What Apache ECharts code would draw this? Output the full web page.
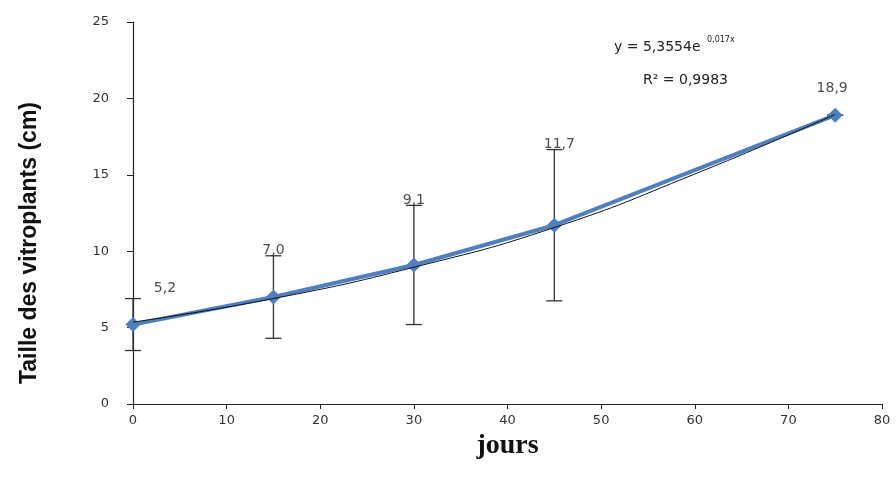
<!DOCTYPE html>
<html><head><meta charset="utf-8">
<script src="https://cdn.jsdelivr.net/npm/echarts@6/dist/echarts.min.js"></script>
<style>html,body{margin:0;padding:0;background:#fff}#c{width:896px;height:490px}</style>
</head><body><div id="c"></div>
<script>
var days = [0, 15, 30, 45, 75];
var heights = [5.2, 7.0, 9.1, 11.7, 18.9];
var errors = [1.7, 2.7, 3.9, 4.95, 0];
var labels = ['5,2', '7,0', '9,1', '11,7', '18,9'];
var trendX = [0, 15, 30, 45, 60, 75];
var trendY = [5.36, 6.9, 8.95, 11.55, 15.05, 18.95];
var xTicks = [0, 10, 20, 30, 40, 50, 60, 70, 80];
var yTicks = [0, 5, 10, 15, 20, 25];

var chart = echarts.init(document.getElementById('c'));
var lineData = days.map(function (d, i) { return [d, heights[i]]; });
var errData = days.map(function (d, i) { return [d, heights[i] - errors[i], heights[i] + errors[i]]; });
var labelOffsets = { 0: [32, -5], 3: [5, 0], 4: [-3, -22] };
var labelData = days.map(function (d, i) {
  var item = { value: [d, heights[i] + errors[i]], name: labels[i] };
  if (labelOffsets[i]) item.label = { offset: labelOffsets[i] };
  return item;
});
var trendData = trendX.map(function (d, i) { return [d, trendY[i]]; });

chart.setOption({
  animation: false,
  grid: { left: 133, right: 14, top: 22, bottom: 86 },
  xAxis: {
    type: 'value', min: 0, max: 80, interval: 10,
    axisLine: { lineStyle: { color: '#222', width: 1.2 } },
    axisTick: { show: true, length: 5, lineStyle: { color: '#222' } },
    axisLabel: { color: '#333', fontFamily: 'DejaVu Sans', fontSize: 13, margin: 10 },
    splitLine: { show: false },
    name: 'jours', nameLocation: 'middle', nameGap: 28,
    nameTextStyle: { fontFamily: 'Liberation Serif', fontWeight: 'bold', fontSize: 28, color: '#111' }
  },
  yAxis: {
    type: 'value', min: 0, max: 25, interval: 5,
    axisLine: { show: true, lineStyle: { color: '#222', width: 1.2 } },
    axisTick: { show: true, length: 6, lineStyle: { color: '#222' } },
    axisLabel: { color: '#333', fontFamily: 'DejaVu Sans', fontSize: 13, margin: 24 },
    splitLine: { show: false }
  },
  series: [
    {
      type: 'custom',
      data: errData,
      renderItem: function (params, api) {
        var x = api.value(0);
        var lo = api.coord([x, api.value(1)]);
        var hi = api.coord([x, api.value(2)]);
        var w = 8;
        var st = { stroke: '#333', lineWidth: 1.3 };
        return {
          type: 'group',
          children: [
            { type: 'line', shape: { x1: lo[0], y1: lo[1], x2: hi[0], y2: hi[1] }, style: st },
            { type: 'line', shape: { x1: lo[0] - w, y1: lo[1], x2: lo[0] + w, y2: lo[1] }, style: st },
            { type: 'line', shape: { x1: hi[0] - w, y1: hi[1], x2: hi[0] + w, y2: hi[1] }, style: st }
          ]
        };
      },
      z: 1
    },
    {
      type: 'line', data: lineData,
      symbol: 'diamond', symbolSize: 15,
      lineStyle: { color: '#4F7FBF', width: 4 },
      itemStyle: { color: '#4F7FBF' },
      z: 2
    },
    {
      type: 'line', data: trendData, smooth: true, symbol: 'none',
      lineStyle: { color: '#111', width: 1 }, z: 3
    },
    {
      type: 'scatter', data: labelData, symbolSize: 0,
      label: {
        show: true, position: 'top', distance: -2,
        formatter: function (p) { return p.name; },
        fontFamily: 'DejaVu Sans', fontSize: 14, color: '#222'
      },
      z: 4
    }
  ],
  graphic: [
    { type: 'text', left: 614, top: 40, style: { text: 'y = 5,3554e', font: '14px DejaVu Sans', fill: '#222' } },
    { type: 'text', left: 707, top: 36, style: { text: '0,017x', font: '8px DejaVu Sans', fill: '#222' } },
    { type: 'text', left: 643, top: 73, style: { text: 'R² = 0,9983', font: '14px DejaVu Sans', fill: '#222' } },
    { type: 'text', x: 30, y: 243, rotation: Math.PI / 2,
      style: { text: 'Taille des vitroplants (cm)', font: 'bold 23px Liberation Sans', fill: '#111', align: 'center', verticalAlign: 'middle' } }
  ]
});
</script></body></html>
